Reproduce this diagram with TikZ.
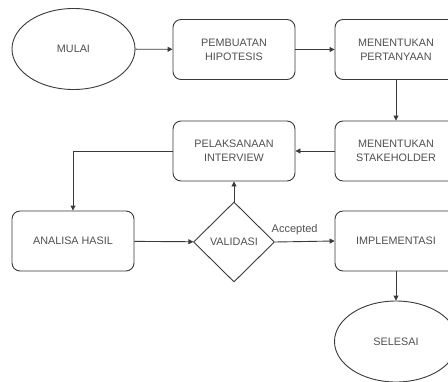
\documentclass[tikz,border=0pt]{standalone}
\usepackage{fontspec}
\setmainfont{Liberation Sans}
\usetikzlibrary{shapes.geometric,arrows.meta}
\definecolor{ln}{HTML}{3A3A3A}
\definecolor{tx}{HTML}{505050}
\tikzset{
  procbox/.style={draw=ln, line width=0.9pt, rounded corners=8pt, fill=white, minimum width=122pt, minimum height=60pt, align=center, text=tx, font=\fontsize{10.8}{14}\selectfont, inner sep=0pt},
  term/.style={draw=ln, line width=0.9pt, ellipse, fill=white, minimum width=123pt, minimum height=81pt, text=tx, font=\fontsize{10.8}{14}\selectfont, inner sep=0pt},
  decis/.style={draw=ln, line width=0.9pt, diamond, fill=white, minimum width=81pt, minimum height=80pt, text=tx, font=\fontsize{10.8}{14}\selectfont, inner sep=0pt},
  conn/.style={draw=ln, line width=0.9pt, -{Triangle[length=5pt,width=5pt]}},
  lbl/.style={text=tx, font=\fontsize{11}{13}\selectfont}
}
\begin{document}
\begin{tikzpicture}[x=1pt,y=-1pt]
\useasboundingbox (0,0) rectangle (448,381);
\begin{scope}
\clip (0,0) rectangle (448,381);
\node[term] (mulai) at (73.5,49) {MULAI};
\node[procbox] (hipo) at (234,49.5) {PEMBUATAN\\HIPOTESIS};
\node[procbox] (tanya) at (396,49.5) {MENENTUKAN\\PERTANYAAN};
\node[procbox] (stake) at (396,151) {MENENTUKAN\\STAKEHOLDER};
\node[procbox] (inter) at (234,151) {PELAKSANAAN\\INTERVIEW};
\node[procbox] (anal) at (73,241) {ANALISA HASIL};
\node[decis] (valid) at (234,242) {VALIDASI};
\node[procbox] (impl) at (396,241) {IMPLEMENTASI};
\node[term] (selesai) at (396,341.5) {SELESAI};
\draw[conn] (mulai) -- (hipo);
\draw[conn] (hipo) -- (tanya);
\draw[conn] (tanya) -- (stake);
\draw[conn] (stake) -- (inter);
\draw[conn] (inter.west) -| (anal.north);
\draw[conn] (anal) -- (valid);
\draw[conn] (valid.north) -- (inter.south);
\draw[conn] (valid.east) -- node[lbl, above=3pt, pos=0.33] (acc) {Accepted} (impl.west);
\draw[conn] (impl) -- (selesai);
\end{scope}
\end{tikzpicture}
\end{document}
